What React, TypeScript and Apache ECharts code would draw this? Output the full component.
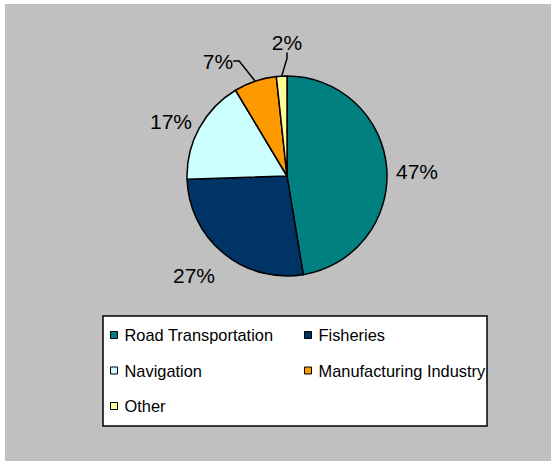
import React, { useEffect, useRef } from "react";
import * as echarts from "echarts";

const categories = ["Road Transportation", "Fisheries", "Navigation", "Manufacturing Industry", "Other"];
const values = [47.4, 27.1, 16.9, 6.9, 1.7];
const colors = ["#008080", "#003366", "#CCFFFF", "#FF9900", "#FFFF99"];
const legendCol1 = ["Road Transportation", "Navigation", "Other"];
const legendCol2 = ["Fisheries", "Manufacturing Industry"];

export default function App() {
  const ref = useRef<HTMLDivElement>(null);
  useEffect(() => {
    if (!ref.current) return;
    const chart = echarts.init(ref.current, null, { renderer: "svg" });
    const font = "Liberation Sans, Arial, sans-serif";
    const legendBase = {
      orient: "vertical" as const,
      top: 327,
      itemWidth: 7,
      itemHeight: 7,
      itemGap: 19.5,
      icon: "rect",
      selectedMode: false,
      itemStyle: { borderColor: "#000", borderWidth: 1 },
      textStyle: { fontFamily: font, fontSize: 16.4, color: "#000", padding: [0, 0, 0, 2] },
      padding: 0,
    };
    const labelPos: Record<number, [number, number]> = {
      0: [417, 171],
      1: [194, 275],
      2: [171, 121],
      3: [218, 61],
      4: [287, 42],
    };
    chart.setOption({
      animation: false,
      backgroundColor: "#ffffff",
      graphic: [
        { type: "rect", shape: { x: 5, y: 4, width: 546, height: 457 }, style: { fill: "#C0C0C0" }, z: -10 },
        { type: "rect", shape: { x: 103, y: 316, width: 384, height: 110 }, style: { fill: "#fff", stroke: "#000", lineWidth: 1.5 }, z: 0 },
      ],
      legend: [
        { ...legendBase, left: 110, data: legendCol1 },
        { ...legendBase, left: 304, data: legendCol2 },
      ],
      series: [
        {
          type: "pie",
          center: [287, 176],
          radius: 100,
          startAngle: 90,
          clockwise: true,
          avoidLabelOverlap: false,
          itemStyle: { borderColor: "#000", borderWidth: 1.5 },
          label: {
            show: true,
            position: "outside",
            fontFamily: font,
            fontSize: 21,
            color: "#000",
            formatter: (p: any) => `${Math.round(p.value)}%`,
          },
          labelLine: { lineStyle: { color: "#000", width: 1.5 }, length: 12, length2: 6 },
          labelLayout: (p: any) => {
            const pos = labelPos[p.dataIndex];
            return { x: pos[0], y: pos[1], align: "center", verticalAlign: "middle" };
          },
          data: categories.map((name, i) => ({
            name,
            value: values[i],
            itemStyle: { color: colors[i] },
            labelLine: { show: i >= 3 },
          })),
          z: 5,
        },
      ],
    });
    return () => chart.dispose();
  }, []);
  return (
    <div
      ref={ref}
      style={{ position: "absolute", left: 0, top: 0, width: 551, height: 461 }}
    />
  );
}
